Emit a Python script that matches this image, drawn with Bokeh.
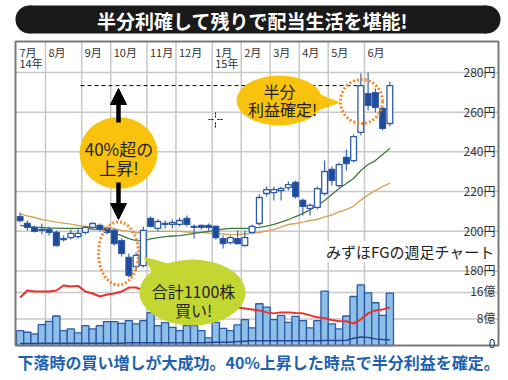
from bokeh.plotting import figure
from bokeh.models import Range1d, Label, Arrow, NormalHead
from bokeh.core.properties import value
from bokeh.embed import file_html
from bokeh.resources import INLINE

# ---------------- data ----------------
weeks = list(range(52))
opens = [207.4, 203.9, 201.9, 200.9, 200.9, 199.4, 196.3, 196.8, 197.3, 199.4, 201.9, 202.9, 201.4, 200.4, 195.3, 186.8, 182.2, 182.7, 206.4, 201.4, 203.9, 203.4, 203.4, 206.4, 202.4, 202.9, 202.9, 202.4, 196.3, 194.3, 196.3, 192.8, 199.4, 203.9, 219.0, 219.5, 220.5, 222.0, 224.6, 215.5, 211.5, 212.0, 219.0, 231.1, 223.0, 237.2, 235.6, 249.8, 269.4, 269.9, 261.9, 254.3]
closes = [205.4, 201.9, 199.9, 200.4, 199.4, 192.8, 195.8, 198.9, 198.9, 201.9, 203.9, 200.9, 199.4, 193.8, 188.8, 177.7, 187.8, 200.4, 202.4, 204.9, 203.4, 204.4, 205.4, 203.4, 201.9, 201.9, 201.9, 196.8, 193.8, 196.8, 193.8, 196.8, 202.4, 217.0, 221.0, 221.0, 221.5, 223.5, 217.5, 212.5, 213.0, 221.5, 230.1, 225.6, 233.6, 234.1, 247.7, 273.4, 263.4, 262.4, 251.8, 273.4]
highs = [209.4, 205.4, 202.9, 203.9, 202.4, 200.4, 197.8, 200.9, 201.4, 202.9, 204.4, 203.9, 202.4, 201.4, 196.3, 188.8, 189.3, 202.4, 207.4, 205.9, 205.4, 205.9, 206.9, 207.9, 203.4, 203.4, 203.9, 202.9, 197.8, 197.8, 200.4, 200.4, 203.4, 218.5, 222.5, 222.5, 222.5, 225.1, 225.6, 216.5, 214.0, 222.5, 235.6, 232.6, 234.6, 241.2, 248.7, 279.5, 280.0, 271.9, 262.9, 275.5]
lows = [204.4, 200.4, 199.4, 198.3, 197.8, 192.3, 194.8, 195.8, 196.3, 198.3, 200.9, 199.9, 198.3, 192.8, 187.3, 176.7, 180.2, 181.7, 201.9, 199.9, 201.4, 201.4, 202.4, 202.4, 196.3, 200.9, 200.4, 195.8, 191.3, 193.3, 193.3, 192.3, 198.9, 202.9, 217.5, 215.5, 215.5, 220.5, 216.5, 207.9, 207.9, 210.9, 218.0, 223.0, 222.0, 230.6, 234.6, 248.2, 260.8, 259.8, 250.8, 252.8]
ma13 = [202.9, 202.4, 202.1, 201.9, 201.6, 201.6, 201.4, 201.4, 201.4, 201.4, 201.1, 200.9, 200.4, 199.1, 197.8, 196.3, 195.3, 195.1, 196.1, 196.8, 197.3, 197.6, 197.8, 198.3, 198.9, 199.4, 199.9, 200.6, 201.1, 201.4, 201.4, 201.4, 201.4, 201.9, 202.6, 203.4, 204.6, 205.9, 207.4, 208.9, 210.9, 213.0, 215.5, 218.5, 221.5, 224.1, 226.6, 230.6, 233.6, 235.6, 238.7, 241.7]
ma26 = [208.7, 207.7, 206.9, 205.9, 205.2, 204.6, 204.1, 203.6, 202.9, 202.4, 202.1, 202.1, 201.9, 201.1, 200.4, 199.9, 199.1, 199.4, 199.9, 199.9, 199.9, 199.9, 199.9, 199.6, 199.4, 199.4, 199.1, 198.9, 198.6, 198.3, 198.3, 198.6, 198.9, 199.4, 200.1, 200.9, 202.1, 203.4, 203.9, 204.6, 205.4, 205.9, 207.2, 208.2, 209.7, 210.9, 212.7, 215.7, 218.3, 220.5, 222.5, 224.3]
volume = [4.5, 4.0, 3.5, 6.3, 7.3, 8.9, 4.5, 5.0, 3.8, 6.0, 5.0, 6.0, 7.2, 7.2, 6.7, 7.5, 6.5, 7.5, 9.9, 6.0, 6.9, 5.5, 4.5, 6.0, 6.0, 4.5, 2.3, 7.0, 5.2, 4.5, 6.2, 7.8, 5.3, 12.6, 11.6, 7.8, 9.1, 7.0, 8.8, 7.5, 5.3, 7.5, 16.4, 6.5, 5.0, 8.9, 14.8, 18.3, 15.9, 12.9, 9.1, 15.8]
red_line = [14.5, 16.6, 16.3, 16.3, 16.3, 16.6, 18.1, 17.8, 18.0, 16.3, 15.7, 14.8, 15.4, 15.7, 16.3, 17.5, 17.5, 16.6, 16.3, 15.7, 15.1, 14.5, 13.9, 13.6, 13.3, 13.0, 12.7, 12.4, 12.1, 11.8, 11.5, 11.2, 10.9, 10.6, 10.0, 9.7, 10.0, 10.0, 9.8, 9.7, 9.1, 8.5, 8.2, 7.7, 7.3, 7.3, 6.6, 7.9, 9.7, 10.6, 10.9, 11.5]
dark_line = [0.6, 0.6, 0.6, 0.7, 0.7, 0.7, 0.7, 0.7, 0.7, 0.7, 0.7, 0.7, 0.7, 0.7, 0.7, 0.8, 0.8, 0.8, 0.8, 0.8, 0.8, 0.8, 0.8, 0.8, 0.8, 0.8, 0.9, 1.0, 1.0, 1.0, 1.2, 1.3, 1.4, 1.4, 1.4, 1.4, 1.4, 1.4, 1.4, 1.4, 1.4, 1.4, 1.5, 1.5, 1.5, 1.6, 2.2, 2.6, 2.4, 2.0, 1.8, 1.7]

month_labels = ["7月", "8月", "9月", "10月", "11月", "12月", "1月", "2月", "3月", "4月", "5月", "6月"]
month_starts = [-0.5, 3.5, 8.5, 12.5, 17.5, 21.5, 26.5, 30.5, 34.5, 38.5, 42.5, 47.5]
year_labels = ["14年", "15年"]
year_starts = [-0.5, 26.5]
price_ticks = [280, 260, 240, 220, 200, 180]
price_tick_labels = ["280円", "260円", "240円", "220円", "200円", "180円"]
vol_ticks = [16, 8, 0]
vol_tick_labels = ["16億", "8億", "0"]

title = "半分利確して残りで配当生活を堪能!"
caption = "下落時の買い増しが大成功。40%上昇した時点で半分利益を確定。"
chart_name = "みずほFGの週足チャート"

# ---------------- page geometry (layout only) ----------------
PX0, PXW = 19.6, 7.25          # page x of week 0, px per week
PY280, PYS = 72.0, 1.984       # page y of 280円, px per 円
VY0, VYS = 345.0, 3.3125       # page y of 0億, px per 億
def X(px): return (px - PX0) / PXW
def Y(py): return 280 - (py - PY280) / PYS
def V(py): return (VY0 - py) / VYS

OX, OY = 0, 0                  # page offset of the canvas
W, H = 508, 380
FONT = "Noto Sans CJK JP"
JP = value(FONT)

p = figure(width=W, height=H, x_range=Range1d(X(OX), X(OX + W)),
           y_range=Range1d(Y(OY + H), Y(OY)), output_backend="svg",
           toolbar_location=None, tools="", x_axis_type=None, y_axis_type=None,
           min_border=0, outline_line_color=None, background_fill_color="white",
           border_fill_color="white")
p.extra_y_ranges = {"vol": Range1d(V(OY + H), V(OY))}
for g in p.grid:
    g.visible = False

GRID = "#c8c8c8"
# grid lines
p.segment(x0=month_starts[1:], x1=month_starts[1:], y0=Y(41), y1=Y(345),
          line_color=GRID, line_width=1.5)
p.segment(x0=X(15), x1=X(498), y0=price_ticks, y1=price_ticks,
          line_color=GRID, line_width=1.5)
p.segment(x0=X(15), x1=X(498), y0=vol_ticks[:2], y1=vol_ticks[:2],
          line_color=GRID, line_width=1.5, y_range_name="vol")

# volume
p.vbar(x=weeks, width=1.0, top=volume, bottom=0, fill_color="#8dbfe9",
       line_color="#2c5aa6", line_width=1.3, y_range_name="vol")
p.line(weeks, dark_line, line_color="#23479a", line_width=1.5, y_range_name="vol")
p.line(weeks, red_line, line_color="#e8322a", line_width=2, y_range_name="vol")

# moving averages
p.line(weeks, ma26, line_color="#d9a35a", line_width=1.4)
p.line(weeks, ma13, line_color="#3e7b3e", line_width=1.3)

# candles
up = [c >= o for o, c in zip(opens, closes)]
body_top = [max(o, c) for o, c in zip(opens, closes)]
body_bot = [min(o, c) for o, c in zip(opens, closes)]
fills = ["white" if u else "#1f4b9b" for u in up]
p.segment(x0=weeks, x1=weeks, y0=lows, y1=highs, line_color="#3a68b4", line_width=1.2)
p.vbar(x=weeks, width=0.8, top=body_top, bottom=body_bot, fill_color=fills,
       line_color="#2d5aa8", line_width=1.3)

# frame
p.quad(left=X(15), right=X(498), top=Y(41), bottom=Y(345), fill_color=None,
       line_color="#7a7a7a", line_width=2)

# tick labels
p.text(x=month_starts, y=Y(43), text=month_labels, x_offset=3, text_baseline="top",
       text_font=JP, text_font_size=value("11px"), text_color="#333333")
p.text(x=year_starts, y=Y(54), text=year_labels, x_offset=3, text_baseline="top",
       text_font=JP, text_font_size=value("11px"), text_color="#333333")
p.text(x=X(495), y=price_ticks, text=price_tick_labels, text_align="right",
       text_baseline="alphabetic", y_offset=-1, text_font=JP,
       text_font_size=value("12px"), text_color="#333333")
p.text(x=X(495), y=vol_ticks, text=vol_tick_labels, text_align="right",
       text_baseline="alphabetic", y_offset=-2, text_font=JP,
       text_font_size=value("12px"), text_color="#333333", y_range_name="vol")

# chart name
p.add_layout(Label(x=X(494), y=Y(251), text=chart_name, text_align="right",
                   text_baseline="alphabetic", text_font=FONT, text_font_size="15px",
                   text_color="#222222", background_fill_color="white"))

# dashed line at profit-taking level
p.line(x=[X(80), 46.6], y=[closes[47], closes[47]], line_color="black",
       line_dash="4 3", line_width=1)

# orange dotted circles
ORANGE = "#f08a2c"
p.ellipse(x=X(361), y=Y(101), width=42 / PXW, height=44 / PYS, fill_color=None,
          line_color=ORANGE, line_width=3, line_dash="2 2")
p.ellipse(x=X(118), y=Y(253), width=40 / PXW, height=63 / PYS, fill_color=None,
          line_color=ORANGE, line_width=3, line_dash="2 2")

# arrows
p.add_layout(Arrow(end=NormalHead(size=16, fill_color="black", line_color="black"),
                   x_start=X(118), y_start=Y(122), x_end=X(118), y_end=Y(88),
                   line_width=4.5, line_color="black"))
p.add_layout(Arrow(end=NormalHead(size=16, fill_color="black", line_color="black"),
                   x_start=X(118), y_start=Y(182), x_end=X(118), y_end=Y(219),
                   line_width=4.5, line_color="black"))

YELLOW = "#f8c20e"
# yellow circle
p.ellipse(x=X(118), y=Y(152.5), width=78 / PXW, height=72 / PYS, fill_color=YELLOW,
          line_color=None)
p.text(x=X(118.5), y=[Y(147.5), Y(167)], text=["40%超の", "上昇!"], text_align="center",
       text_baseline="middle", text_font=JP, text_font_size=value("17px"),
       text_color="#222222")

# yellow bubble
p.patch(x=[X(310), X(340), X(312)], y=[Y(90), Y(102), Y(112)], fill_color=YELLOW,
        line_color=None)
p.ellipse(x=X(279), y=Y(100), width=86 / PXW, height=50 / PYS, fill_color=YELLOW,
          line_color=None)
p.text(x=[X(279), X(282)], y=[Y(90), Y(108)], text=["半分", "利益確定!"],
       text_align="center", text_baseline="middle", text_font=JP,
       text_font_size=value("16px"), text_color="#222222")

# green bubble
GREEN = "#c4d631"
p.patch(x=[X(143), X(178), X(155)], y=[Y(256), Y(266), Y(278)], fill_color=GREEN,
        line_color=None)
p.ellipse(x=X(192), y=Y(292), width=106 / PXW, height=66 / PYS, fill_color=GREEN,
          line_color=None)
p.text(x=X(193), y=[Y(290), Y(309)], text=["合計1100株", "買い!"], text_align="center",
       text_baseline="middle", text_font=JP, text_font_size=value("16px"),
       text_color="#222222")

# cursor cross
p.segment(x0=[X(208), X(217), X(215), X(215)], x1=[X(213), X(223), X(215), X(215)],
          y0=[Y(119), Y(119), Y(112), Y(122)], y1=[Y(119), Y(119), Y(117), Y(127)],
          line_color="black", line_width=1, line_dash="2 1")

# title banner
p.quad(left=X(29), right=X(486), top=Y(5), bottom=Y(33), fill_color="#1a1a1a",
       line_color=None)
p.ellipse(x=[X(29), X(486)], y=Y(19), width=28 / PXW, height=28 / PYS,
          fill_color="#1a1a1a", line_color=None)
p.text(x=X(252), y=Y(19.5), text=[title], text_align="center", text_baseline="middle",
       text_font=JP, text_font_style="bold", text_font_size=value("19px"),
       text_color="white")

# caption
p.text(x=X(17), y=Y(361), text=[caption], text_align="left", text_baseline="middle",
       text_font=JP, text_font_style="bold", text_font_size=value("16px"),
       text_color="#1d62b2")

open("out.html", "w").write(file_html(p, INLINE))
